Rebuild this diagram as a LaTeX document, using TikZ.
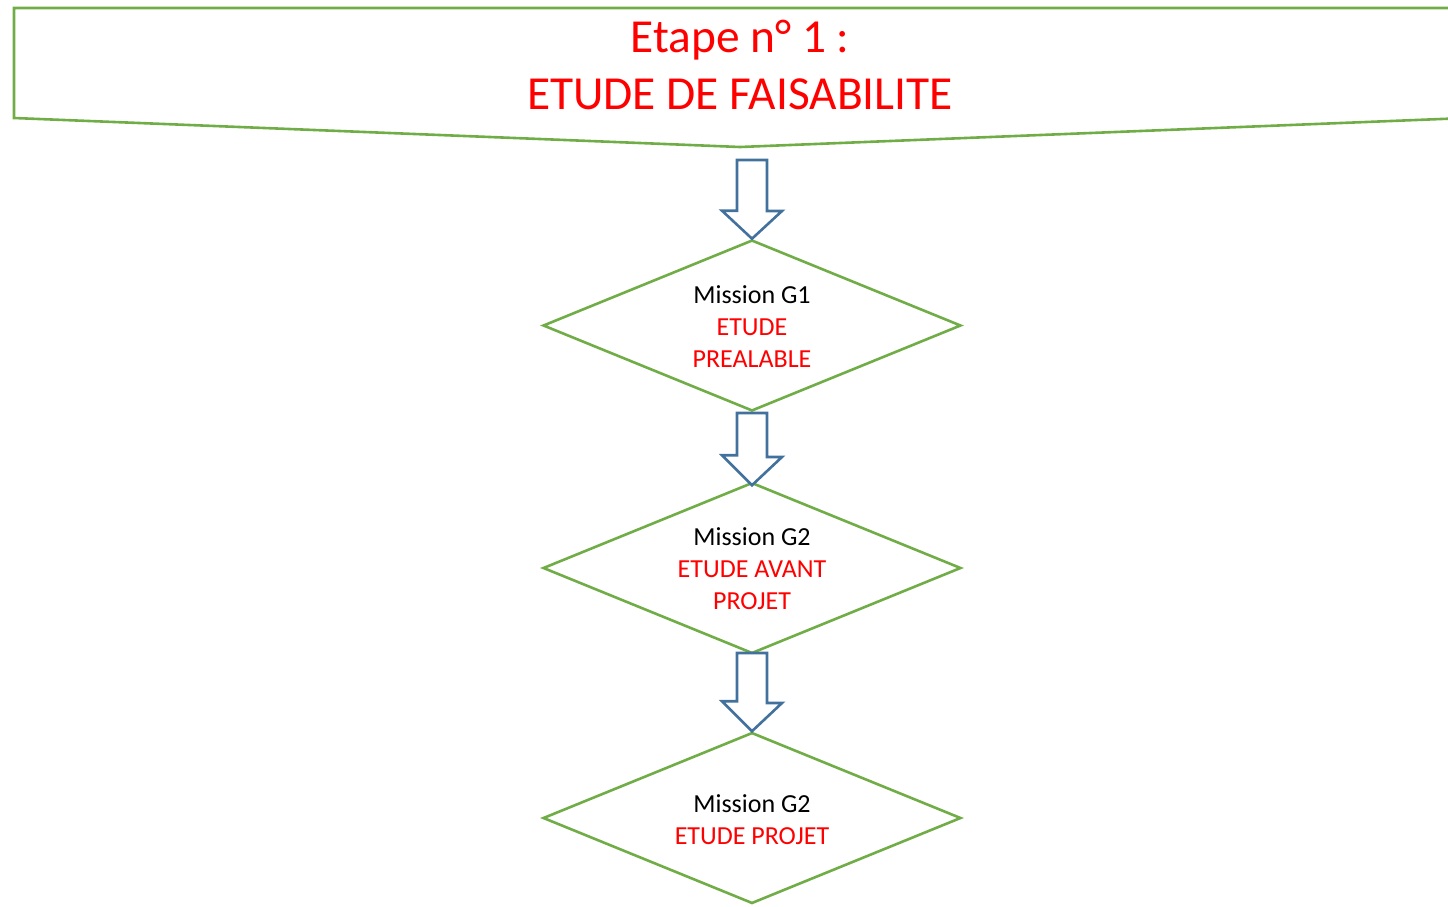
\documentclass[tikz,border=0pt]{standalone}
\usepackage{fontspec}
\setmainfont{Carlito}
\usetikzlibrary{shapes.geometric}
\definecolor{okgreen}{HTML}{70AD47}
\definecolor{okblue}{HTML}{41719C}
\begin{document}
\begin{tikzpicture}[x=1pt,y=-1pt,
  greenline/.style={draw=okgreen,line width=2.6pt,line join=miter},
  blockarrow/.style={draw=okblue,line width=2.6pt,fill=white,line join=miter},
  decision/.style={diamond,greenline,fill=white,inner sep=0pt,minimum width=418pt,minimum height=171pt},
  lbl/.style={align=center,font=\fontsize{26}{32}\selectfont,inner sep=0pt},
  ttl/.style={align=center,text=red,font=\fontsize{47.4}{57}\selectfont,inner sep=0pt}]
\useasboundingbox (0,0) rectangle (1448,906);
\clip (0,0) rectangle (1448,906);
% banner
\draw[greenline] (14,8) -- (1466,8) -- (1466,118) -- (740,147) -- (14,118) -- cycle;
\node[ttl] (title) at (740,65) {Etape n° 1 :\\ETUDE DE FAISABILITE};
% decisions
\node[decision] (d1) at (752,325.5) {};
\node[decision] (d2) at (752,568) {};
\node[decision] (d3) at (752,818) {};
\node[lbl] (t1) at (752,327) {Mission G1\\\textcolor{red}{ETUDE}\\\textcolor{red}{PREALABLE}};
\node[lbl] (t2) at (752,569) {Mission G2\\\textcolor{red}{ETUDE AVANT}\\\textcolor{red}{PROJET}};
\node[lbl] (t3) at (752,820) {Mission G2\\\textcolor{red}{ETUDE PROJET}};
% block arrows
\coordinate (a1) at (752,160);
\coordinate (a2) at (752,413);
\coordinate (a3) at (752,653);
\draw[blockarrow] (a1) ++(-15,0) -- ++(30,0) -- ++(0,51) -- ++(15,0) -- (d1.north) -- ++(-30,-28) -- ++(15,0) -- cycle;
\draw[blockarrow] (a2) ++(-15,0) -- ++(30,0) -- ++(0,44) -- ++(15,0) -- ([yshift=-4pt]d2.north) -- ++(-30,-30) -- ++(15,0) -- cycle;
\draw[blockarrow] (a3) ++(-15,0) -- ++(30,0) -- ++(0,50) -- ++(15,0) -- (d3.north) -- ++(-30,-30) -- ++(15,0) -- cycle;
\end{tikzpicture}
\end{document}
